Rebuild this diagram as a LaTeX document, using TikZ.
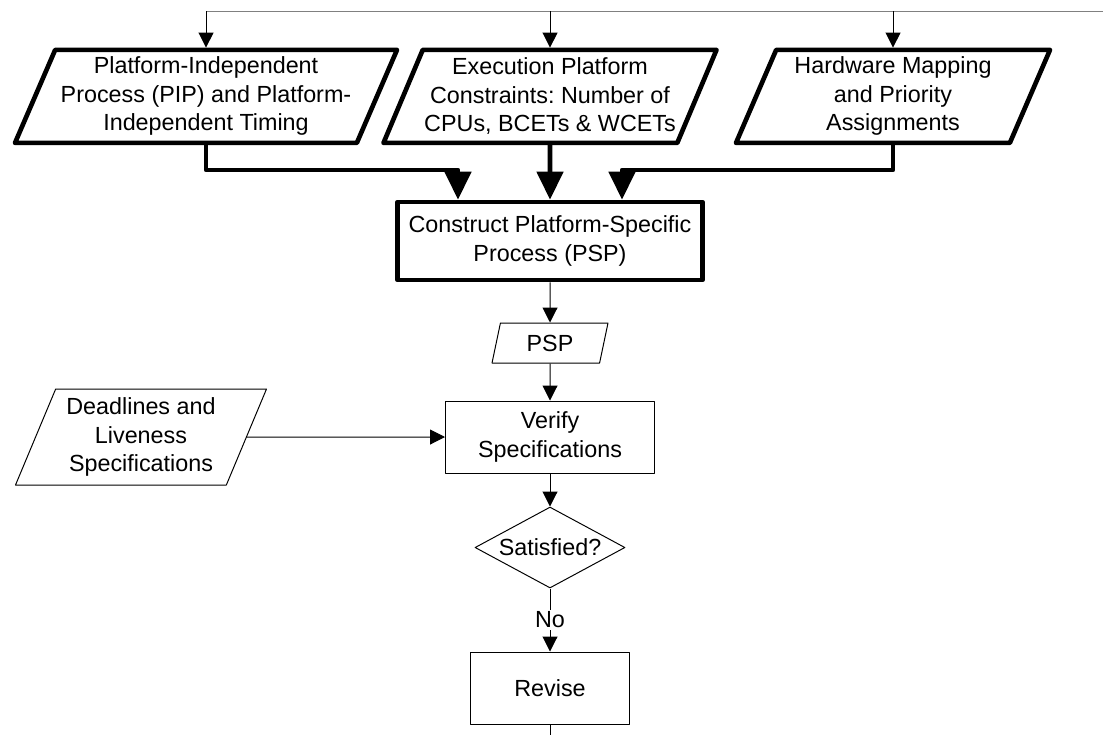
\documentclass[tikz,border=0pt]{standalone}
\usepackage{fontspec}
\setmainfont{Liberation Sans}
\usetikzlibrary{shapes.geometric,arrows.meta}
\frenchspacing

\begin{document}
\begin{tikzpicture}[
        font=\fontsize{16.6}{20.3}\selectfont,
        line width=0.7pt, line join=round,
        io/.style={trapezium, trapezium left angle=63, trapezium right angle=117,
            trapezium stretches body=true, draw, align=center, inner sep=0pt},
        proc/.style={rectangle, draw, align=center},
        heavy/.style={line width=3.3pt},
        arr/.style={-{Triangle[width=0.375cm,length=0.375cm]}},
        bigarr/.style={heavy, -{Triangle[width=0.65cm,length=0.7cm]}}]
        \useasboundingbox (0,0) rectangle (27.575,-18.375);

        \node[io, heavy, minimum width=9.55cm, minimum height=2.325cm] (pip) at (5.15,-2.41) {Platform-Independent\\Process (PIP) and Platform-\\Independent Timing};
        \node[io, heavy, minimum width=8.325cm, minimum height=2.325cm] (exec) at (13.75,-2.41) {Execution Platform\\Constraints: Number of\\CPUs, BCETs \& WCETs};
        \node[io, heavy, minimum width=7.85cm, minimum height=2.325cm] (hw) at (22.325,-2.41) {Hardware Mapping\\and Priority\\Assignments};
        \node[proc, heavy, minimum width=7.625cm, minimum height=1.95cm] (construct) at (13.75,-6.025) {Construct Platform-Specific\\Process (PSP)};
        \node[io, minimum width=2.9cm, minimum height=1cm] (psp) at (13.75,-8.575) {PSP};
        \node[proc, minimum width=5.225cm, minimum height=1.8cm] (verify) at (13.75,-10.925) {Verify\\Specifications};
        \node[io, minimum width=6.275cm, minimum height=2.4cm] (dl) at (3.525,-10.925) {Deadlines and\\Liveness\\Specifications};
        \node[diamond, draw, shape aspect=1.85, minimum width=3.75cm, minimum height=2.025cm, inner sep=0pt] (sat) at (13.75,-13.6875) {Satisfied?};
        \node[proc, minimum width=3.975cm, minimum height=1.8cm] (revise) at (13.75,-17.2) {Revise};

        \coordinate (bus) at (27.575,-0.275);
        \coordinate (out) at (13.75,-18.375);
        \draw[gray] (bus) -- (bus -| pip.north);
        \foreach \n in {pip,exec,hw}
            \draw[arr] (bus -| \n.north) -- (\n.north);

        \draw[bigarr] (pip.south) |- (11.45,-4.25) -- (11.45,0 |- construct.north);
        \draw[bigarr] (exec.south) -- (construct.north);
        \draw[bigarr] (hw.south) |- (15.55,-4.25) -- (15.55,0 |- construct.north);

        \draw[arr] (construct) -- (psp);
        \draw[arr] (psp) -- (verify);
        \draw[arr] (dl) -- (verify);
        \draw[arr] (verify) -- (sat);
        \draw[arr] (sat) -- node[fill=white, inner sep=1pt] {No} (revise);
        \draw (revise) -- (out);
\end{tikzpicture}
\end{document}
